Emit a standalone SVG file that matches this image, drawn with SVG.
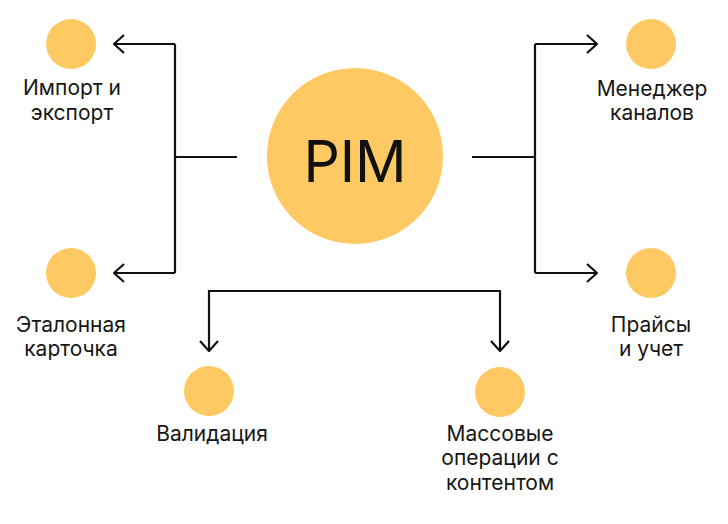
<svg xmlns="http://www.w3.org/2000/svg" width="728" height="524" viewBox="0 0 728 524">
<defs>
<style>
.n{fill:#FEC962}
.t{font-family:Inter,"Noto Sans",sans-serif;font-size:21px;fill:#161616;text-anchor:middle}
.c{fill:none;stroke:#111;stroke-width:2.2}
</style>
<marker id="a" viewBox="0 0 12 20" refX="11" refY="10" markerWidth="12" markerHeight="20" markerUnits="userSpaceOnUse" orient="auto">
<path d="M1 1 L11 10 L1 19" fill="none" stroke="#111" stroke-width="2.2"/>
</marker>
</defs>
<rect width="728" height="524" fill="#fff"/>
<g id="connectors">
<path class="c" d="M237 157 H175"/>
<path class="c" d="M175 44 V273"/>
<path class="c" d="M175 44 H114" marker-end="url(#a)"/>
<path class="c" d="M175 273 H114" marker-end="url(#a)"/>
<path class="c" d="M472 157 H535"/>
<path class="c" d="M535 44 V273"/>
<path class="c" d="M535 44 H597" marker-end="url(#a)"/>
<path class="c" d="M535 273 H597" marker-end="url(#a)"/>
<path class="c" d="M209 291 H500"/>
<path class="c" d="M209 290 V351" marker-end="url(#a)"/>
<path class="c" d="M500 290 V351" marker-end="url(#a)"/>
</g>
<g id="pim">
<circle class="n" cx="355" cy="156" r="88"/>
<text x="355" y="182" style="font-family:Inter,'Noto Sans',sans-serif;font-size:57px;fill:#111;text-anchor:middle">PIM</text>
</g>
<g id="import">
<circle class="n" cx="71" cy="44" r="25"/>
<text class="t" x="72" y="95">Импорт и</text>
<text class="t" x="72" y="120">экспорт</text>
</g>
<g id="channels">
<circle class="n" cx="651" cy="44" r="25"/>
<text class="t" x="652" y="96">Менеджер</text>
<text class="t" x="652" y="120">каналов</text>
</g>
<g id="card">
<circle class="n" cx="71" cy="273" r="25"/>
<text class="t" x="71" y="332">Эталонная</text>
<text class="t" x="71" y="356">карточка</text>
</g>
<g id="prices">
<circle class="n" cx="651" cy="273" r="25"/>
<text class="t" x="651" y="332">Прайсы</text>
<text class="t" x="651" y="356">и учет</text>
</g>
<g id="validation">
<circle class="n" cx="209" cy="391" r="25"/>
<text class="t" x="212" y="441">Валидация</text>
</g>
<g id="mass">
<circle class="n" cx="500" cy="392" r="25"/>
<text class="t" x="500" y="441">Массовые</text>
<text class="t" x="500" y="465">операции с</text>
<text class="t" x="500" y="490">контентом</text>
</g>
</svg>
